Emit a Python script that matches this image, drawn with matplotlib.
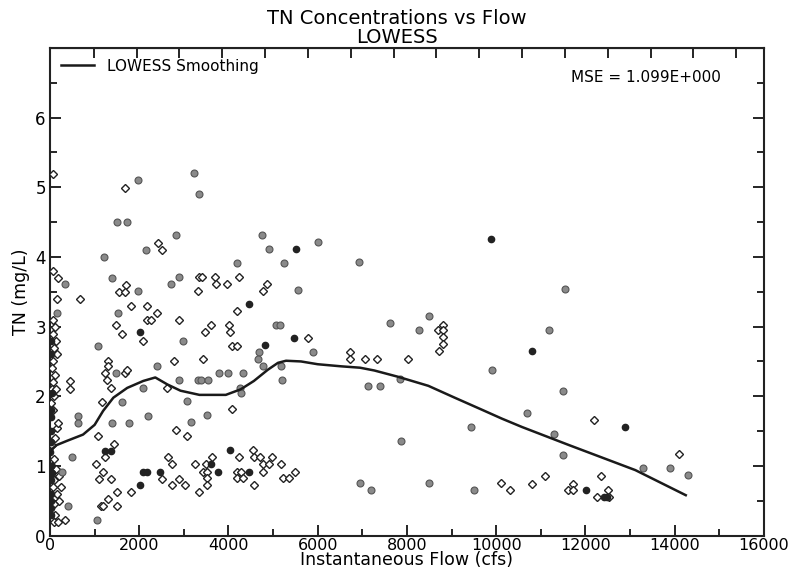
import matplotlib
matplotlib.use("Agg")
import matplotlib.pyplot as plt
from matplotlib.ticker import MultipleLocator, NullFormatter
import numpy as np

plt.rcParams['font.family'] = ['DejaVu Sans']

# --- data (flow in cfs, TN in mg/L) ---
open_flow = [70, 70, 180, 160, 70, 110, 60, 140, 90, 150, 60, 40, 120, 70, 40, 140, 90, 30, 60,
             150, 120, 50, 90, 40, 130, 200, 100, 240, 60, 150, 200, 90, 120, 80, 180,
             1690, 1710, 1555, 1690, 2430, 2500, 3350, 3310, 675, 1820, 2180, 2390, 2180, 2270,
             2900, 1485, 1620, 2090, 1300, 1300, 2770, 1240, 1690, 1730, 1280, 1370, 2630, 1170,
             180, 2835, 3080, 1080, 1440, 1240, 1035, 2650, 2745, 3240, 1195, 1100, 1370, 2520,
             2900, 2745, 3015, 1510, 1820, 1300, 1150, 1195, 1510, 340, 3350, 450, 450,
             3400, 3690, 4230, 3710, 3960, 4860, 4770, 4185, 3600, 4005, 3465, 4030, 4070, 4185,
             5780, 6730, 6730, 3420, 4070, 4545, 3620, 4230, 4570, 4700, 4970, 3490, 4770, 4905,
             5175, 3420, 3510, 4185, 4275, 4770, 5490, 3510, 4185, 4320, 5220, 5355, 3510, 4570,
             7065, 7335, 8030, 8690, 8800, 8800, 8800, 8800, 8720, 10100, 10300, 10800, 11090,
             12190, 14100, 12350, 11720, 11600, 11720, 12500, 12260, 12530]
open_tn = [5.19, 3.8, 3.7, 3.4, 3.1, 3.0, 2.9, 2.8, 2.7, 2.6, 2.5, 2.4, 2.3, 2.2, 2.1, 2.1, 2.0, 1.9, 1.8,
           1.55, 1.4, 1.3, 1.1, 1.0, 0.95, 0.85, 0.8, 0.7, 0.7, 0.6, 0.5, 0.45, 0.3, 0.2, 0.2,
           4.99, 3.6, 3.5, 3.5, 4.2, 4.1, 3.71, 3.51, 3.4, 3.3, 3.3, 3.2, 3.1, 3.1,
           3.1, 3.02, 2.9, 2.8, 2.51, 2.43, 2.51, 2.33, 2.33, 2.37, 2.23, 2.12, 2.12, 1.92,
           1.62, 1.52, 1.43, 1.43, 1.32, 1.13, 1.03, 1.13, 1.03, 1.03, 0.92, 0.81, 0.81, 0.81,
           0.81, 0.72, 0.72, 0.62, 0.62, 0.52, 0.42, 0.42, 0.42, 0.22, 0.62, 2.22, 2.11,
           3.71, 3.71, 3.71, 3.61, 3.61, 3.61, 3.51, 3.22, 3.02, 3.02, 2.92, 2.92, 2.72, 2.72,
           2.83, 2.63, 2.53, 2.53, 1.82, 1.23, 1.13, 1.13, 1.13, 1.13, 1.13, 1.03, 1.03, 1.03,
           1.03, 0.92, 0.92, 0.92, 0.92, 0.92, 0.92, 0.82, 0.82, 0.82, 0.82, 0.82, 0.72, 0.72,
           2.53, 2.53, 2.53, 2.95, 3.03, 2.95, 2.85, 2.75, 2.65, 0.75, 0.65, 0.74, 0.85,
           1.66, 1.17, 0.85, 0.74, 0.65, 0.65, 0.65, 0.55, 0.55]

gray_flow = [1980, 3220, 3330, 1510, 1730, 2835, 2160, 1215, 340, 1395, 1980, 2880, 2720, 160, 1530,
             4750, 4905, 6000, 4200, 5240, 6930, 5560, 5060, 5150, 7630, 8500, 8260, 11180, 11540,
             2990, 1080, 1490, 2390, 2090, 2880, 3310, 1620, 3060, 630, 630, 1395, 1780, 2200, 3150,
             500, 270, 400, 1060, 5890, 4680, 4655, 4770, 3780, 3980, 4320, 3375, 3530, 5175, 5200,
             4250, 4275, 3510, 9900, 7875, 9430, 6950, 7200, 8500, 9500, 7130, 7400, 7850, 10700,
             11300, 11500, 11500, 13300, 13900, 14300]
gray_tn = [5.1, 5.2, 4.9, 4.5, 4.5, 4.31, 4.1, 4.0, 3.61, 3.7, 3.51, 3.71, 3.61, 3.2, 3.2,
           4.32, 4.12, 4.22, 3.92, 3.92, 3.93, 3.52, 3.03, 3.03, 3.05, 3.15, 2.95, 2.95, 3.54,
           2.8, 2.72, 2.33, 2.43, 2.12, 2.23, 2.23, 1.92, 1.93, 1.72, 1.62, 1.62, 1.62, 1.72, 1.63,
           1.13, 0.92, 0.42, 0.23, 2.63, 2.63, 2.53, 2.44, 2.34, 2.34, 2.34, 2.23, 2.23, 2.44, 2.24,
           2.12, 2.04, 1.73, 2.37, 1.36, 1.56, 0.75, 0.65, 0.75, 0.66, 2.15, 2.15, 2.25, 1.76,
           1.46, 2.07, 1.16, 0.97, 0.97, 0.87]

dark_flow = [20, 30, 20, 10, 20, 30, 20, 20, 30, 40, 20, 30, 40, 30, 20,
             2025, 1240, 1370, 2090, 2180, 2475, 2025, 4455, 5510, 4815, 5470, 4030, 3600, 3760,
             4455, 10800, 12890, 12010, 12420, 12490, 9880]
dark_tn = [1.8, 1.7, 1.5, 1.2, 1.0, 0.8, 0.6, 0.4, 0.3, 2.05, 2.6, 1.35, 0.9, 0.5, 2.8,
           2.92, 1.21, 1.21, 0.92, 0.92, 0.92, 0.72, 3.32, 4.12, 2.73, 2.83, 1.23, 1.03, 0.92,
           0.92, 2.65, 1.56, 0.65, 0.55, 0.55, 4.26]

lowess_flow = [0, 60, 150, 380, 740, 1000, 1190, 1420, 1730, 2090, 2360, 2630, 2925, 3350, 3940,
               4275, 4570, 4880, 5110, 5290, 5625, 6000, 6525, 6950, 7270, 7800, 8480, 9070,
               9670, 10125, 10575, 11630, 13120, 14250]
lowess_tn = [1.15, 1.25, 1.30, 1.36, 1.45, 1.59, 1.79, 1.98, 2.12, 2.22, 2.27, 2.17, 2.08, 2.02,
             2.02, 2.10, 2.22, 2.38, 2.48, 2.51, 2.50, 2.46, 2.43, 2.41, 2.37, 2.28, 2.15, 1.98,
             1.81, 1.68, 1.56, 1.30, 0.94, 0.58]

fig = plt.figure(figsize=(7.94, 5.71), dpi=100)
ax = fig.add_axes([0.063, 0.062, 0.899, 0.854])

ax.plot(open_flow, open_tn, linestyle='none', marker='D', markersize=3.6,
        markerfacecolor='white', markeredgecolor='#222222', markeredgewidth=1.0, zorder=3)
ax.plot(gray_flow, gray_tn, linestyle='none', marker='o', markersize=5,
        markerfacecolor='#8a8a8a', markeredgecolor='#555555', markeredgewidth=0.8, zorder=3)
ax.plot(dark_flow, dark_tn, linestyle='none', marker='o', markersize=4.5,
        markerfacecolor='#222222', markeredgecolor='#222222', zorder=3)
ax.plot(lowess_flow, lowess_tn, color='#1a1a1a', linewidth=1.8, zorder=4,
        label='LOWESS Smoothing')

ax.set_xlim(0, 16000)
ax.set_ylim(0, 7)
ax.xaxis.set_major_locator(MultipleLocator(2000))
ax.xaxis.set_minor_locator(MultipleLocator(1000))
ax.yaxis.set_major_locator(MultipleLocator(1))
ax.yaxis.set_minor_locator(MultipleLocator(0.5))
ax.set_yticks([0, 1, 2, 3, 4, 5, 6])
ax.tick_params(which='both', direction='in', right=True, top=False, labelsize=12, width=1.2)
ax.tick_params(axis='x', pad=1.5, labelsize=11.5)
ax.tick_params(axis='y', pad=3)
ax.tick_params(which='major', length=8)
ax.tick_params(which='minor', length=5)
for s in ax.spines.values():
    s.set_linewidth(1.5)
    s.set_color('#222222')

# top ticks have their own spacing in the original
top = ax.secondary_xaxis('top')
top.set_xticks(np.arange(980, 16000, 960))
top.xaxis.set_major_formatter(NullFormatter())
top.tick_params(direction='in', length=7, width=1.2)

ax.set_xlabel('Instantaneous Flow (cfs)', fontsize=12.5, labelpad=-1)
ax.set_ylabel('TN (mg/L)', fontsize=12.5, labelpad=4)
fig.text(0.50, 0.968, 'TN Concentrations vs Flow', ha='center', va='center', fontsize=14)
fig.text(0.50, 0.935, 'LOWESS', ha='center', va='center', fontsize=14)

ax.legend(loc='upper left', frameon=False, fontsize=11, handlelength=2.2,
          bbox_to_anchor=(0.0, 1.0), borderaxespad=0.3)
ax.text(0.73, 0.93, 'MSE = 1.099E+000', transform=ax.transAxes, fontsize=11)

fig.savefig('out.png', dpi=100)
